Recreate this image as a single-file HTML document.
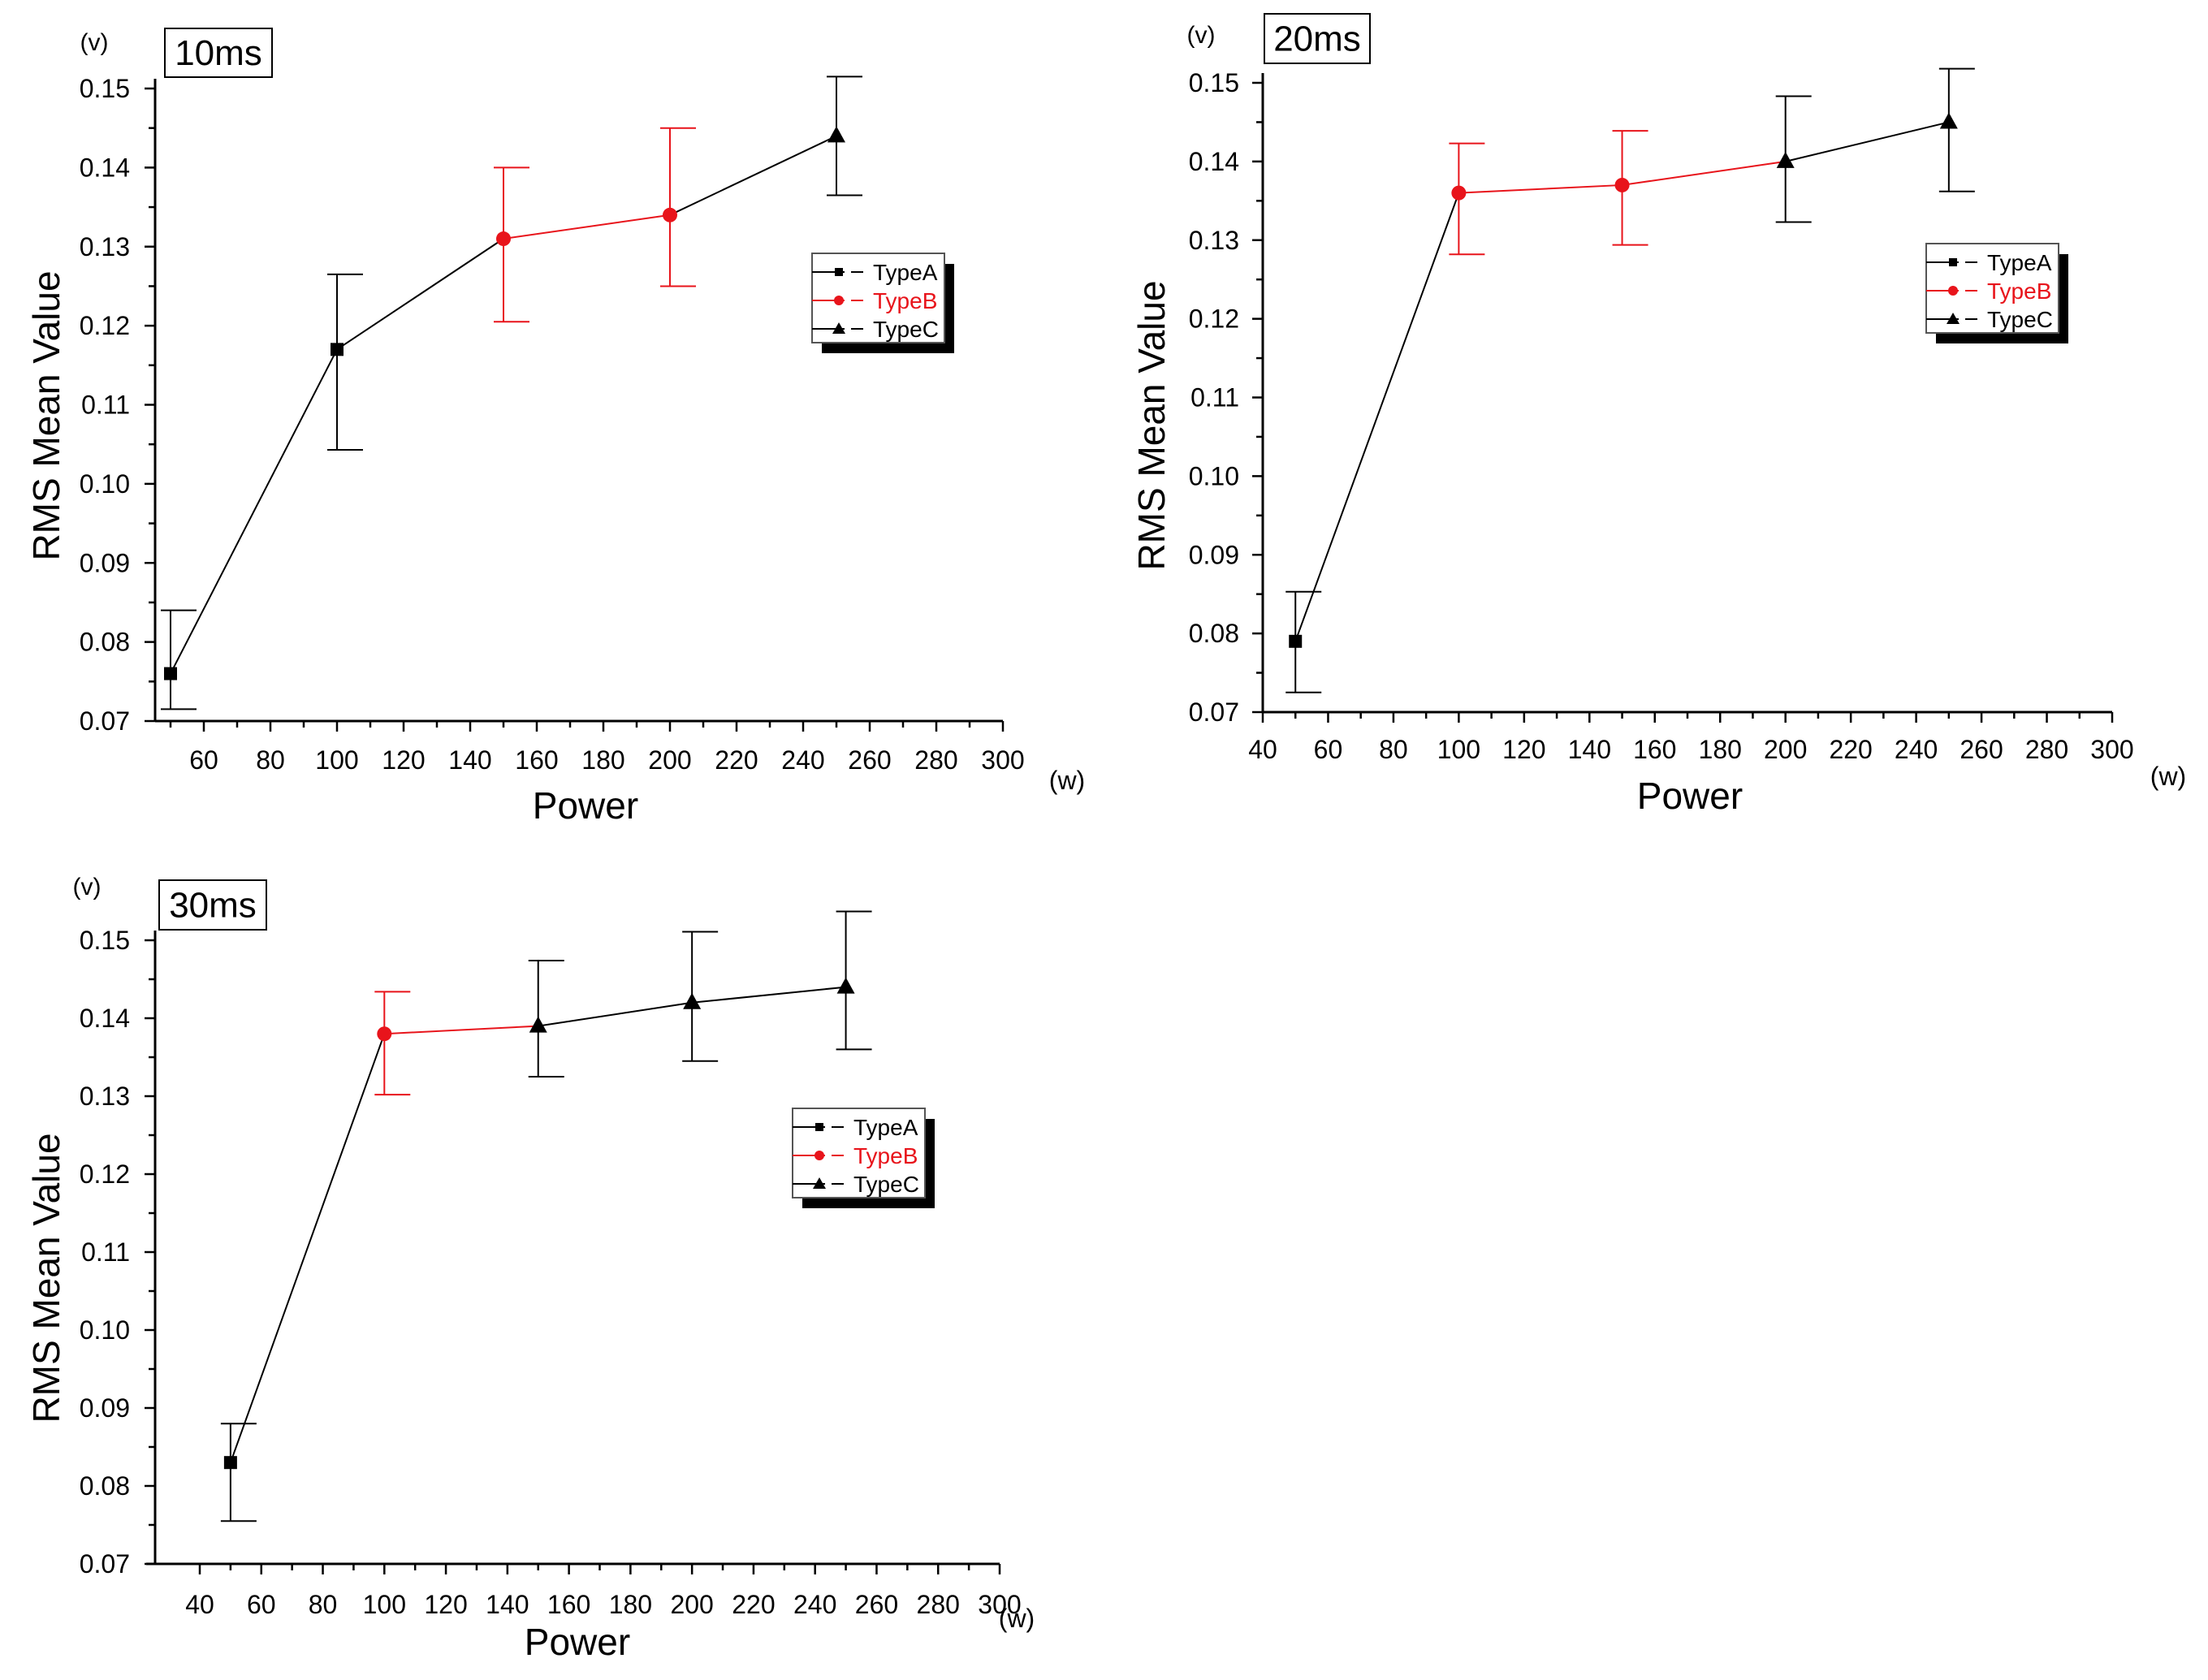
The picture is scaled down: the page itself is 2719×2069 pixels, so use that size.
<!DOCTYPE html>
<html><head><meta charset="utf-8"><style>
html,body{margin:0;padding:0;background:#fff;}
svg{display:block;font-family:"Liberation Sans",sans-serif;}
</style></head><body>
<svg id="root" width="2719" height="2069" viewBox="0 0 2719 2069" xmlns="http://www.w3.org/2000/svg"></svg>
<script>
const xTicks = [40,60,80,100,120,140,160,180,200,220,240,260,280,300];
const yTicks = [0.07,0.08,0.09,0.10,0.11,0.12,0.13,0.14,0.15];
const powers = [50,100,150,200,250];
const types1 = ['A','A','B','B','C'];
const mean1 = [0.076,0.117,0.131,0.134,0.144];
const lo1 = [0.0715,0.1043,0.1205,0.125,0.1365];
const hi1 = [0.084,0.1265,0.140,0.145,0.1515];
const seg1 = ['k','k','r','k'];
const types2 = ['A','B','B','C','C'];
const mean2 = [0.079,0.136,0.137,0.140,0.145];
const lo2 = [0.0725,0.1282,0.1294,0.1323,0.1362];
const hi2 = [0.0853,0.1423,0.1439,0.1483,0.1518];
const seg2 = ['k','r','r','k'];
const types3 = ['A','B','C','C','C'];
const mean3 = [0.083,0.138,0.139,0.142,0.144];
const lo3 = [0.0755,0.1302,0.1325,0.1345,0.136];
const hi3 = [0.088,0.1434,0.1474,0.1511,0.1537];
const seg3 = ['k','r','k','k'];

const NS='http://www.w3.org/2000/svg';
const root=document.getElementById('root');
function mk(tag,attrs,parent,text){const e=document.createElementNS(NS,tag);for(const k in attrs)e.setAttribute(k,attrs[k]);if(text!==undefined)e.textContent=text;(parent||root).appendChild(e);return e;}

const panels=[
 {title:'10ms',ax:191,ay:888,axStart:191,top:109,x0v:60,x0:251,x1:1235,tb:[203,35,132,60],v:[116,62],yt:[57,512],pw:[721,1008],w:[1314,972],lg:[1000,312],tickL:160,xl:936,
  types:types1,mean:mean1,lo:lo1,hi:hi1,seg:seg1},
 {title:'20ms',ax:1555,ay:877,axStart:1555,top:102,x0v:40,x0:1555,x1:2601,tb:[1557,17,130,61],v:[1479,53],yt:[1418,524],pw:[2081,996],w:[2670,967],lg:[2372,300],tickL:1526,xl:923,
  types:types2,mean:mean2,lo:lo2,hi:hi2,seg:seg2},
 {title:'30ms',ax:191,ay:1926,axStart:180,top:1158,x0v:40,x0:246,x1:1231,tb:[196,1084,132,61],v:[107,1102],yt:[57,1574],pw:[711,2038],w:[1252,2004],lg:[976,1365],tickL:160,xl:1976,
  types:types3,mean:mean3,lo:lo3,hi:hi3,seg:seg3}
];
const col={k:'#000',r:'#e8141b',A:'#000',B:'#e8141b',C:'#000'};

panels.forEach((p,pi)=>{
 const g=mk('g',{});
 
 
 const sx=v=>p.x0+(v-p.x0v)*(p.x1-p.x0)/(300-p.x0v);
 const sy=v=>p.ay-(v-0.07)*(p.ay-p.top)/0.08;
 const axes=mk('g',{},g);
 
 
 mk('line',{x1:p.ax,y1:p.top-12,x2:p.ax,y2:p.ay,stroke:'#000','stroke-width':3},axes);
 mk('line',{x1:p.axStart,y1:p.ay,x2:p.x1,y2:p.ay,stroke:'#000','stroke-width':3},axes);
 yTicks.forEach((t,i)=>{
  const y=sy(t);
  mk('line',{x1:p.ax-13,y1:y,x2:p.ax,y2:y,stroke:'#000','stroke-width':2.5},axes);
  if(i<yTicks.length-1){const ym=sy(t+0.005);mk('line',{x1:p.ax-8,y1:ym,x2:p.ax,y2:ym,stroke:'#000','stroke-width':2.5},axes);}
  const tl=mk('text',{x:p.tickL,y:y+11,'text-anchor':'end','font-size':32},axes,t.toFixed(2));
  
  
 });
 xTicks.forEach(t=>{
  if(t<p.x0v-1)return;
  const x=sx(t);
  mk('line',{x1:x,y1:p.ay,x2:x,y2:p.ay+13,stroke:'#000','stroke-width':2.5},axes);
  if(t<300){const xm=sx(t+10);mk('line',{x1:xm,y1:p.ay,x2:xm,y2:p.ay+8,stroke:'#000','stroke-width':2.5},axes);}
  const tl=mk('text',{x:x,y:p.xl+11,'text-anchor':'middle','font-size':32},axes,String(t));
  
  
 });
 if(p.x0v>40){const xm=sx(50);mk('line',{x1:xm,y1:p.ay,x2:xm,y2:p.ay+8,stroke:'#000','stroke-width':2.5},axes);}
 const yt=mk('text',{x:p.yt[0],y:p.yt[1],'text-anchor':'middle','font-size':46,transform:`rotate(-90 ${p.yt[0]} ${p.yt[1]})`,dy:16},g,'RMS Mean Value');
 
 
 const xt=mk('text',{x:p.pw[0],y:p.pw[1],'text-anchor':'middle','font-size':46},g,'Power');
 
 
 const vu=mk('text',{x:p.v[0],y:p.v[1],'text-anchor':'middle','font-size':30},g,'(v)');
 
 
 const wu=mk('text',{x:p.w[0],y:p.w[1],'text-anchor':'middle','font-size':32},g,'(w)');
 
 
 const tb=mk('g',{},g);
 
 
 mk('rect',{x:p.tb[0],y:p.tb[1],width:p.tb[2],height:p.tb[3],fill:'#fff',stroke:'#000','stroke-width':2},tb);
 mk('text',{x:p.tb[0]+p.tb[2]/2,y:p.tb[1]+p.tb[3]/2+15,'text-anchor':'middle','font-size':44},tb,p.title);
 for(let i=0;i<powers.length-1;i++){
  const s=mk('line',{x1:sx(powers[i]),y1:sy(p.mean[i]),x2:sx(powers[i+1]),y2:sy(p.mean[i+1]),stroke:col[p.seg[i]],'stroke-width':2},g);
  
  
 }
 powers.forEach((pw,i)=>{
  const x=sx(pw),c=col[p.types[i]];
  const eb=mk('g',{stroke:c,'stroke-width':2,fill:'none'},g);
  
  
  mk('line',{x1:x,y1:sy(p.lo[i]),x2:x,y2:sy(p.hi[i])},eb);
  mk('line',{x1:x-12,y1:sy(p.lo[i]),x2:x+32,y2:sy(p.lo[i])},eb);
  mk('line',{x1:x-12,y1:sy(p.hi[i]),x2:x+32,y2:sy(p.hi[i])},eb);
  const y=sy(p.mean[i]);let m;
  if(p.types[i]==='A') m=mk('rect',{x:x-8,y:y-8,width:16,height:16,fill:c},g);
  else if(p.types[i]==='B') m=mk('circle',{cx:x,cy:y,r:9,fill:c},g);
  else m=mk('polygon',{points:`${x},${y-12} ${x-11},${y+8} ${x+11},${y+8}`,fill:c},g);
  
  
 });
 const lg=mk('g',{},g);
 
 
 const L=p.lg[0],T=p.lg[1],W=163,H=110;
 mk('rect',{x:L+12,y:T+13,width:W,height:H,fill:'#000'},lg);
 mk('rect',{x:L,y:T,width:W,height:H,fill:'#fff',stroke:'#555','stroke-width':2},lg);
 ['A','B','C'].forEach((t,j)=>{
  const ey=T+23+j*35,c=col[t];
  const en=mk('g',{},lg);
  
  
  mk('line',{x1:L,y1:ey,x2:L+63,y2:ey,stroke:c,'stroke-width':2},en);
  mk('rect',{x:L+40,y:ey-3,width:8,height:6,fill:'#fff'},en);
  const mx=L+33;
  if(t==='A') mk('rect',{x:mx-5,y:ey-5,width:10,height:10,fill:c},en);
  else if(t==='B') mk('circle',{cx:mx,cy:ey,r:6,fill:c},en);
  else mk('polygon',{points:`${mx},${ey-8} ${mx-8},${ey+6} ${mx+8},${ey+6}`,fill:c},en);
  mk('text',{x:L+75,y:ey+10,'font-size':28,fill:c},en,'Type'+t);
 });
});
</script>
</body></html>
